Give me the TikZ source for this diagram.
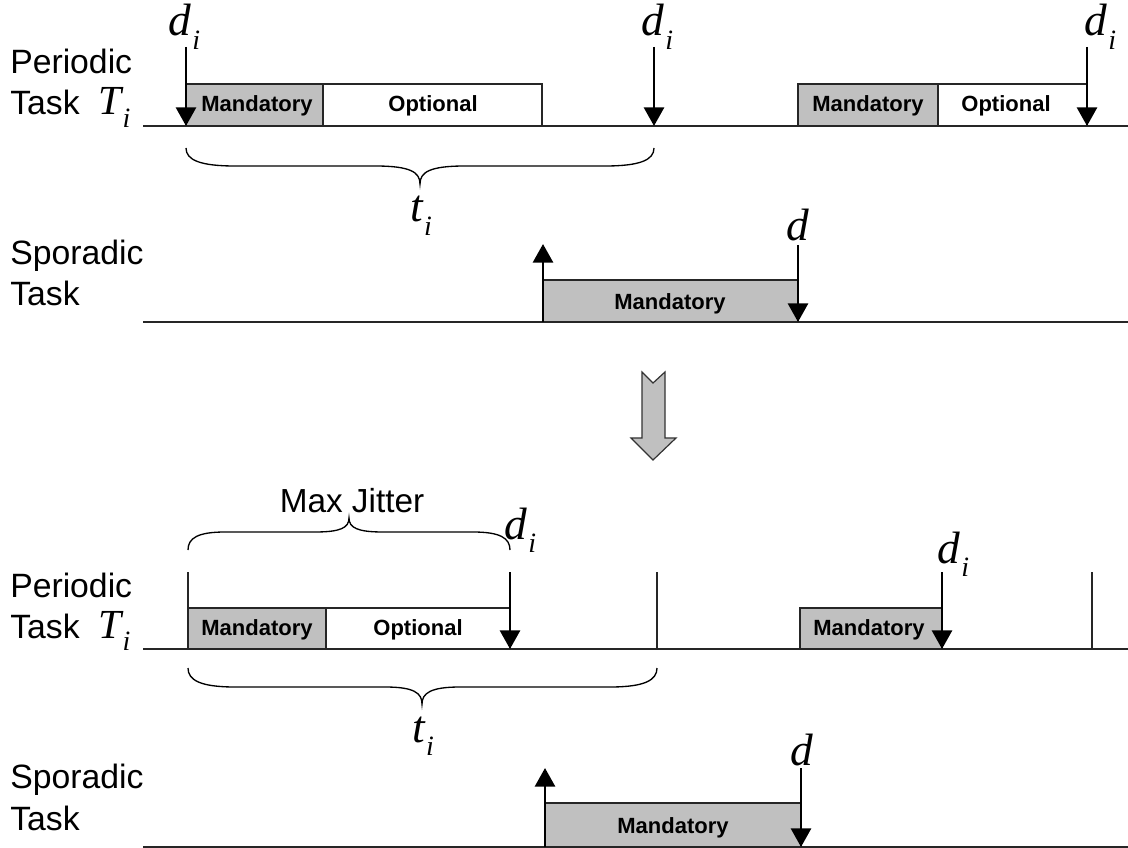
\documentclass[tikz,border=0pt]{standalone}
\usepackage{fontspec}
\setmainfont{Liberation Sans}
\newfontfamily\tmr{Liberation Serif}
\usetikzlibrary{arrows.meta}
\definecolor{boxgray}{HTML}{C0C0C0}
\newcommand\dsub[1]{{\tmr\itshape\fontsize{34}{34}\selectfont #1\kern1pt\raisebox{-0.3em}{\fontsize{21}{21}\selectfont i}}}
\newcommand\dlab{{\tmr\itshape\fontsize{34}{34}\selectfont d}}
\newcommand\Tsub{{\tmr\itshape\fontsize{31}{31}\selectfont T\kern1pt\raisebox{-0.3em}{\fontsize{21}{21}\selectfont i}}}
\tikzset{
  axis/.style={line width=1.3pt, draw=black!85},
  mand/.style={draw=black!85, fill=boxgray, line width=1.1pt},
  opt/.style={draw=black!85, fill=white, line width=1.1pt},
  boxtext/.style={font=\bfseries\fontsize{16.5}{17}\selectfont, inner sep=0pt},
  dline/.style={line width=2.2pt, -{Triangle[length=14pt,width=15pt]}},
  tickline/.style={line width=1pt, draw=black!85},
  brace/.style={line width=1pt},
  tasklabel/.style={font=\fontsize{25.3}{30}\selectfont, anchor=base west, inner sep=0pt},
  mathlabel/.style={anchor=base west, inner sep=0pt},
  bigarrow/.style={draw=black!80, fill=boxgray, line width=0.9pt, line join=miter}
}
\begin{document}
\begin{tikzpicture}[x=0.75pt,y=-0.75pt]
\useasboundingbox (0,0) rectangle (1128,848);

% ================= Top periodic task =================
\node[tasklabel] (p1a) at (10,74) {Periodic};
\node[tasklabel] (p1b) at (10,115) {Task\ \ \Tsub};
\coordinate (ax1l) at (143,126); \coordinate (ax1r) at (1128,126);
\draw[axis] (ax1l) -- (ax1r);
\path[mand] (186,84) rectangle (323,126);
\node[boxtext] (m1) at (257,106) {Mandatory};
\path[opt] (323,84) rectangle (542,126);
\node[boxtext] (o1) at (433,106) {Optional};
\path[mand] (798,84) rectangle (938,126);
\node[boxtext] (m2) at (868,106) {Mandatory};
\path[opt] (938,84) rectangle (1087,126);
\node[boxtext] (o2) at (1006,106) {Optional};
\coordinate (a1t) at (186,47); \coordinate (a1b) at (186,126);
\coordinate (a2t) at (654,47); \coordinate (a2b) at (654,126);
\coordinate (a3t) at (1087,47); \coordinate (a3b) at (1087,126);
\draw[dline] (a1t) -- (a1b);
\draw[dline] (a2t) -- (a2b);
\draw[dline] (a3t) -- (a3b);
\node[mathlabel] (d1) at (168,36) {\dsub{d}};
\node[mathlabel] (d2) at (641,36) {\dsub{d}};
\node[mathlabel] (d3) at (1084,36) {\dsub{d}};
\draw[brace] (186,148) .. controls (186,160) and (200,166) .. (235,166) -- (375,166)
  .. controls (410,166) and (420,172) .. (420,184)
  .. controls (420,172) and (430,166) .. (465,166) -- (605,166)
  .. controls (640,166) and (654,160) .. (654,148);
\node[mathlabel] (t1) at (410,222) {\dsub{t}};

% ================= Sporadic task 1 =================
\node[tasklabel] (s1a) at (10,265) {Sporadic};
\node[tasklabel] (s1b) at (10,306) {Task};
\coordinate (ax2l) at (143,322); \coordinate (ax2r) at (1128,322);
\draw[axis] (ax2l) -- (ax2r);
\path[mand] (543,280) rectangle (798,322);
\node[boxtext] (m3) at (670,304) {Mandatory};
\coordinate (u1b) at (543,322); \coordinate (u1t) at (543,244);
\draw[dline] (u1b) -- (u1t);
\coordinate (a4t) at (798,245); \coordinate (a4b) at (798,322);
\draw[dline] (a4t) -- (a4b);
\node[mathlabel] (d4) at (786,241) {\dlab};

% ================= Big transition arrow =================
\path[bigarrow] (642,372) -- (653,383) -- (665,372) -- (665,438) -- (676,438)
  -- (653,460) -- (631,438) -- (642,438) -- cycle;

% ================= Bottom periodic task =================
\node[tasklabel] (p2a) at (10,597) {Periodic};
\node[tasklabel] (p2b) at (10,638) {Task\ \ \Tsub};
\coordinate (ax3l) at (143,649); \coordinate (ax3r) at (1128,649);
\draw[axis] (ax3l) -- (ax3r);
\coordinate (k1t) at (188,572); \coordinate (k1b) at (188,649);
\coordinate (k2t) at (657,572); \coordinate (k2b) at (657,649);
\coordinate (k3t) at (1092,572); \coordinate (k3b) at (1092,649);
\draw[tickline] (k1t) -- (k1b);
\draw[tickline] (k2t) -- (k2b);
\draw[tickline] (k3t) -- (k3b);
\path[mand] (188,608) rectangle (326,649);
\node[boxtext] (m4) at (257,630) {Mandatory};
\path[opt] (326,608) rectangle (510,649);
\node[boxtext] (o3) at (418,630) {Optional};
\path[mand] (800,608) rectangle (942,649);
\node[boxtext] (m5) at (869,630) {Mandatory};
\coordinate (a5t) at (510,572); \coordinate (a5b) at (510,649);
\coordinate (a6t) at (942,572); \coordinate (a6b) at (942,649);
\draw[dline] (a5t) -- (a5b);
\draw[dline] (a6t) -- (a6b);
\node[mathlabel] (d5) at (504,539) {\dsub{d}};
\node[mathlabel] (d6) at (937,563) {\dsub{d}};
\draw[brace] (188,550) .. controls (188,538) and (198,532) .. (225,532) -- (315,532)
  .. controls (340,532) and (349,528) .. (349,518)
  .. controls (349,528) and (358,532) .. (383,532) -- (473,532)
  .. controls (500,532) and (510,538) .. (510,550);
\node[font=\fontsize{25}{28}\selectfont, anchor=base, inner sep=0pt] (mj) at (352,512) {Max Jitter};
\draw[brace] (188,668) .. controls (188,680) and (200,687) .. (235,687) -- (385,687)
  .. controls (414,687) and (422,693) .. (422,704)
  .. controls (422,693) and (431,687) .. (460,687) -- (610,687)
  .. controls (645,687) and (657,680) .. (657,668);
\node[mathlabel] (t2) at (412,742) {\dsub{t}};

% ================= Sporadic task 2 =================
\node[tasklabel] (s2a) at (10,788) {Sporadic};
\node[tasklabel] (s2b) at (10,830) {Task};
\coordinate (ax4l) at (143,847); \coordinate (ax4r) at (1128,847);
\draw[axis] (ax4l) -- (ax4r);
\path[mand] (545,803) rectangle (801,847);
\node[boxtext] (m6) at (673,828) {Mandatory};
\coordinate (u2b) at (545,847); \coordinate (u2t) at (545,768);
\draw[dline] (u2b) -- (u2t);
\coordinate (a7t) at (801,768); \coordinate (a7b) at (801,847);
\draw[dline] (a7t) -- (a7b);
\node[mathlabel] (d7) at (790,765) {\dlab};
\end{tikzpicture}
\end{document}
